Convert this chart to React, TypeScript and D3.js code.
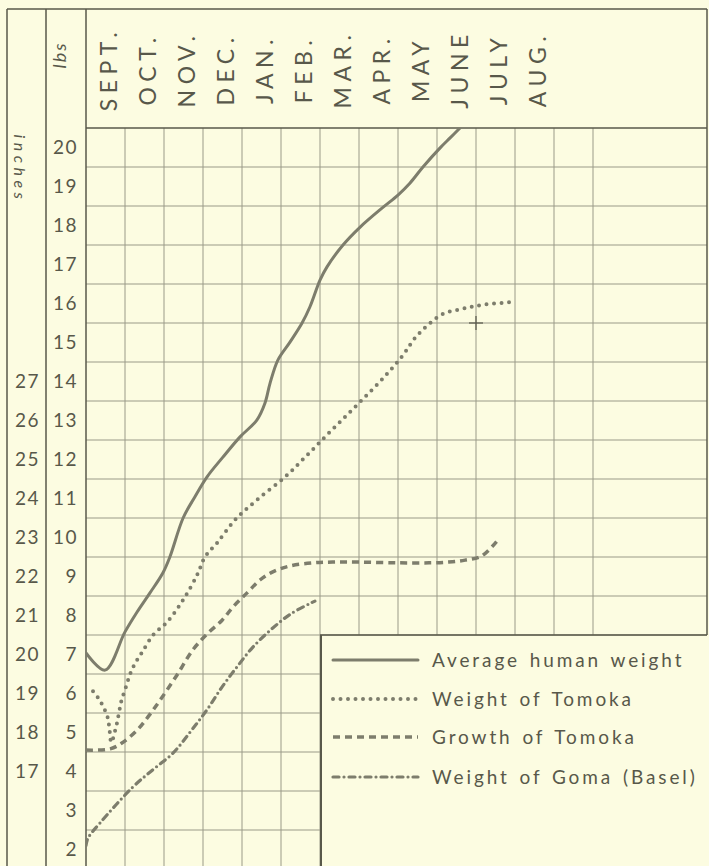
import React from "react";
import * as d3 from "d3";

const months = ["SEPT.", "OCT.", "NOV.", "DEC.", "JAN.", "FEB.", "MAR.", "APR.", "MAY", "JUNE", "JULY", "AUG."];
const lbsTicks = [20, 19, 18, 17, 16, 15, 14, 13, 12, 11, 10, 9, 8, 7, 6, 5, 4, 3, 2];
const inchTicks = [27, 26, 25, 24, 23, 22, 21, 20, 19, 18, 17];

// t = months since start of September, v = lbs (or inches on left scale)
const humanT = [0, 0.49, 1.0, 1.31, 1.64, 1.97, 2.15, 2.49, 2.79, 3.1, 3.51, 3.95, 4.38, 4.59, 4.72, 4.92, 5.23, 5.54, 5.74, 6.0, 6.18, 6.59, 7.03, 7.62, 8.0, 8.31, 8.64, 9.08, 9.33, 9.59];
const humanV = [7.04, 6.6, 7.58, 8.09, 8.58, 9.09, 9.5, 10.5, 11.04, 11.55, 12.06, 12.58, 13.01, 13.45, 13.96, 14.55, 15.01, 15.5, 15.91, 16.6, 16.94, 17.5, 17.96, 18.47, 18.78, 19.09, 19.5, 19.99, 20.24, 20.5];

const tomokaT = [0.18, 0.33, 0.46, 0.56, 0.6, 0.65, 0.77, 0.82, 0.87, 0.92, 1.0, 1.15, 1.28, 1.44, 1.72, 2.08, 2.49, 2.85, 3.05, 3.36, 3.82, 4.38, 5.1, 5.62, 6.13, 6.64, 7.15, 7.67, 8.13, 8.44, 8.77, 9.15, 9.64, 10.13, 10.95];
const tomokaV = [6.06, 5.86, 5.63, 5.37, 5.1, 4.75, 5.14, 5.37, 5.63, 5.86, 6.09, 6.55, 6.81, 7.06, 7.5, 7.83, 8.4, 9.04, 9.5, 9.86, 10.45, 10.96, 11.55, 12.06, 12.58, 13.09, 13.6, 14.14, 14.68, 15.12, 15.45, 15.73, 15.86, 15.96, 16.04];

const growthT = [0, 0.62, 0.92, 1.31, 1.59, 1.9, 2.33, 2.74, 3.13, 3.49, 3.77, 4.13, 4.46, 4.79, 5.23, 5.82, 6.33, 7.0, 8.0, 8.8, 9.3, 9.72, 10.15, 10.54];
const growthV = [4.55, 4.58, 4.73, 5.06, 5.4, 5.83, 6.47, 7.12, 7.55, 7.88, 8.22, 8.58, 8.91, 9.12, 9.27, 9.35, 9.37, 9.37, 9.35, 9.35, 9.37, 9.42, 9.53, 9.91];

const gomaT = [0, 0.05, 0.36, 1.2, 1.72, 2.23, 2.67, 3.1, 3.49, 3.87, 4.28, 4.79, 5.28, 5.87];
const gomaV = [2.1, 2.29, 2.68, 3.6, 4.05, 4.47, 5.01, 5.58, 6.17, 6.68, 7.19, 7.68, 8.06, 8.37];

const legendLabels = ["Average human weight", "Weight of Tomoka", "Growth of Tomoka", "Weight of Goma (Basel)"];

const W = 709;
const H = 866;
const BG = "#fcfce1";
const INK = "#58584a";
const LINE = "#7d7d6c";
const GRID = "#9a9a88";
const FONT = "Lato, 'DejaVu Sans', sans-serif";

export default function App() {
  const x = d3.scaleLinear().domain([0, 13]).range([86, 593]);
  const y = d3.scaleLinear().domain([1.5, 20.5]).range([869, 128]);
  const xRight = 707;
  const legendT = 6;
  const legendV = 7.5;

  const lineGen = d3
    .line<[number, number]>()
    .x((d) => x(d[0]))
    .y((d) => y(d[1]))
    .curve(d3.curveCatmullRom.alpha(0.5));

  const zip = (a: number[], b: number[]) => a.map((t, i) => [t, b[i]] as [number, number]);

  const hLines = d3.range(2.5, 20, 1);
  const vLines = d3.range(1, 14, 1);

  const styles = [
    { dash: undefined as string | undefined, cap: "round", w: 3 },
    { dash: "0 7.5", cap: "round", w: 4 },
    { dash: "7 5", cap: "butt", w: 3.5 },
    { dash: "6 5 0 5", cap: "round", w: 3.2 },
  ];
  const series = [zip(humanT, humanV), zip(tomokaT, tomokaV), zip(growthT, growthV), zip(gomaT, gomaV)];

  const legendRows = [660, 699, 737, 777];

  return (
    <svg width={W} height={H} style={{ position: "absolute", left: 0, top: 0 }} fontFamily={FONT}>
      <rect x={0} y={0} width={W} height={H} fill={BG} />
      <defs>
        <clipPath id="plot">
          <rect x={x(0)} y={y(20.5)} width={xRight - x(0)} height={H - y(20.5)} />
        </clipPath>
      </defs>

      {/* grid horizontal */}
      {hLines.map((v) => (
        <line
          key={"h" + v}
          x1={x(0)}
          x2={v < legendV ? x(legendT) : xRight}
          y1={y(v)}
          y2={y(v)}
          stroke={GRID}
          strokeWidth={1}
        />
      ))}
      {/* grid vertical */}
      {vLines.map((t) => (
        <line
          key={"v" + t}
          x1={x(t)}
          x2={x(t)}
          y1={y(20.5)}
          y2={t > legendT ? y(legendV) : H}
          stroke={GRID}
          strokeWidth={1}
        />
      ))}

      {/* frame */}
      <line x1={7} x2={xRight} y1={9} y2={9} stroke={INK} strokeWidth={1.5} />
      <line x1={7} x2={7} y1={9} y2={H} stroke={INK} strokeWidth={1.5} />
      <line x1={46} x2={46} y1={9} y2={H} stroke={INK} strokeWidth={1.5} />
      <line x1={x(0)} x2={x(0)} y1={9} y2={H} stroke={INK} strokeWidth={1.5} />
      <line x1={xRight} x2={xRight} y1={9} y2={y(legendV)} stroke={INK} strokeWidth={1.5} />
      <line x1={x(0)} x2={xRight} y1={y(20.5)} y2={y(20.5)} stroke={INK} strokeWidth={1.5} />
      {/* legend box */}
      <line x1={x(legendT) + 1} x2={x(legendT) + 1} y1={y(legendV)} y2={H} stroke={INK} strokeWidth={2} />
      <line x1={x(legendT)} x2={xRight} y1={y(legendV)} y2={y(legendV)} stroke={INK} strokeWidth={1.5} />

      {/* month labels */}
      {months.map((m, i) => (
        <text
          key={m}
          transform={`translate(${x(i + 0.5) + 11},69) rotate(-90)`}
          textAnchor="middle"
          fontSize={23}
          letterSpacing={5.5}
          fill={INK}
        >
          {m}
        </text>
      ))}

      {/* axis titles */}
      <text transform="translate(66,55) rotate(-90)" textAnchor="middle" fontSize={18} fontStyle="italic" letterSpacing={2} fill={INK}>
        lbs
      </text>
      <text transform="translate(14,169) rotate(90)" textAnchor="middle" fontSize={16} fontStyle="italic" letterSpacing={4.5} fill={INK}>
        inches
      </text>

      {/* lbs ticks */}
      {lbsTicks.map((v) => (
        <text key={"l" + v} x={78} y={y(v)} dy="0.36em" textAnchor="end" fontSize={19} letterSpacing={1.5} fill={INK}>
          {v}
        </text>
      ))}
      {/* inches ticks (inches = lbs + 13) */}
      {inchTicks.map((v) => (
        <text key={"i" + v} x={40} y={y(v - 13)} dy="0.36em" textAnchor="end" fontSize={19} letterSpacing={1.5} fill={INK}>
          {v}
        </text>
      ))}

      {/* series */}
      <g clipPath="url(#plot)">
        {series.map((s, i) => (
          <path
            key={"s" + i}
            d={lineGen(s) || ""}
            fill="none"
            stroke={LINE}
            strokeWidth={styles[i].w}
            strokeDasharray={styles[i].dash}
            strokeLinecap={styles[i].cap as any}
            strokeLinejoin="round"
          />
        ))}
      </g>

      {/* registration cross */}
      <g stroke={INK} strokeWidth={1.2}>
        <line x1={x(10) - 7} x2={x(10) + 7} y1={y(15.5)} y2={y(15.5)} />
        <line x1={x(10)} x2={x(10)} y1={y(15.5) - 7} y2={y(15.5) + 7} />
      </g>

      {/* legend */}
      {legendLabels.map((lab, i) => (
        <g key={lab}>
          <line
            x1={333}
            x2={418}
            y1={legendRows[i]}
            y2={legendRows[i]}
            stroke={LINE}
            strokeWidth={styles[i].w}
            strokeDasharray={styles[i].dash}
            strokeLinecap={styles[i].cap as any}
          />
          <text x={432} y={legendRows[i]} dy="0.36em" fontSize={19} letterSpacing={2.9} wordSpacing={2} fill={INK}>
            {lab}
          </text>
        </g>
      ))}
    </svg>
  );
}
